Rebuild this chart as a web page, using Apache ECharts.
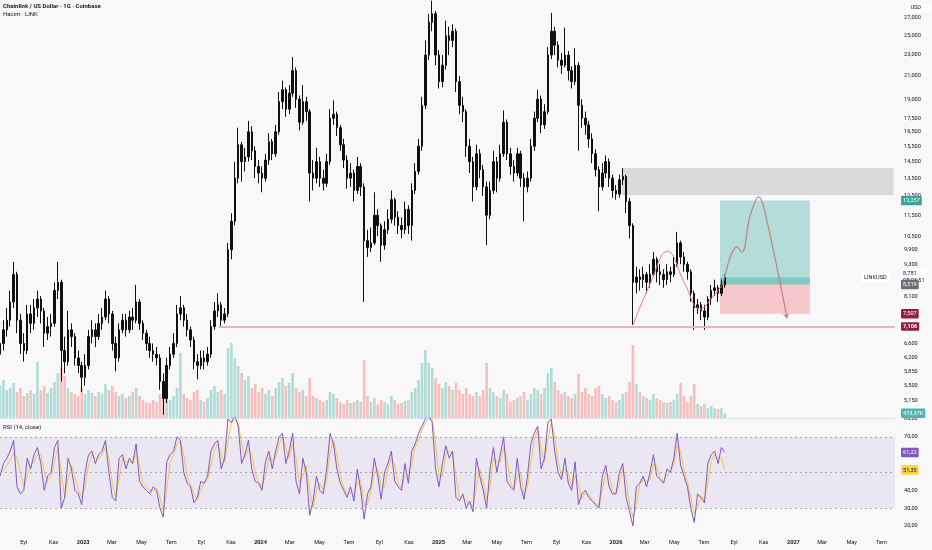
<!DOCTYPE html>
<html><head><meta charset="utf-8">
<script src="https://cdn.jsdelivr.net/npm/echarts@6/dist/echarts.min.js"></script>
<style>html,body{margin:0;padding:0;background:#f8f8f8}#c{width:932px;height:550px}</style>
</head><body><div id="c"></div>
<script>
// ---------- data (weekly) ----------
const firstWeek = '2022-07-14';
const firstOpen = 6.3;
const closes = [
6.6,7.0,7.3,7.9,8.9,7.3,6.6,6.4,7.5,7.2,
7.7,8.0,7.6,6.9,7.1,7.2,8.3,8.6,6.4,6.1,
7.0,6.8,6.2,6.0,5.7,6.0,6.8,7.0,6.8,7.2,
7.4,8.0,7.5,6.6,6.2,7.0,7.3,7.0,7.4,7.3,
7.9,7.2,6.9,6.6,6.4,6.3,6.2,5.6,5.2,6.0,
6.3,6.6,7.5,7.7,7.3,7.0,6.7,6.1,6.0,6.2,
6.1,6.3,7.1,7.6,7.8,7.3,7.5,9.9,11.2,13.5,
15.6,14.5,14.8,16.5,15.2,14.2,13.8,13.5,14.6,15.8,
15.0,16.5,18.8,19.8,18.2,19.5,21.5,19.0,17.2,18.8,
18.0,13.8,13.5,14.5,13.5,13.2,14.5,17.5,17.8,16.8,
15.6,14.6,13.5,13.8,12.8,14.2,13.0,10.3,10.0,10.2,
11.5,11.0,10.1,10.8,11.3,12.3,11.4,11.0,10.8,11.8,
11.0,12.8,13.9,15.5,18.5,23.0,26.5,27.5,23.0,20.5,
22.0,25.0,24.5,25.5,20.5,18.5,18.0,15.5,14.5,13.0,
15.0,14.0,13.0,11.5,12.8,14.5,13.5,15.0,17.2,15.0,
14.2,13.8,15.0,13.5,13.0,13.5,15.5,17.5,19.0,17.0,
18.0,23.0,25.5,24.0,22.5,22.0,23.0,21.5,20.5,22.0,
18.5,17.5,17.0,16.0,15.0,14.0,13.0,13.8,14.5,13.5,
12.8,12.6,13.4,13.6,12.2,11.0,8.6,8.8,8.7,8.9,
8.6,8.9,9.5,9.0,8.9,8.7,9.0,8.9,9.3,10.2,
9.6,9.3,9.0,8.2,7.7,7.8,7.6,7.4,8.0,8.3,
8.4,8.2,8.5,8.781];
const highs = [
6.9,7.3,7.7,8.3,9.4,9.0,7.5,6.9,7.8,7.8,
8.0,8.3,8.1,7.7,7.4,7.5,8.6,9.4,8.7,6.8,
7.6,7.2,6.9,6.4,6.1,6.3,7.0,7.3,7.2,7.5,
7.7,8.3,8.1,7.6,6.8,7.2,7.5,7.5,7.6,7.7,
8.5,8.0,7.3,7.0,6.8,6.6,6.5,6.3,5.8,6.2,
6.5,6.9,7.8,8.1,7.8,7.5,7.1,6.8,6.3,6.4,
6.4,6.5,7.3,7.9,8.2,7.9,7.7,10.2,11.6,14.5,
16.8,15.8,15.4,17.3,16.9,15.5,14.6,14.2,15.0,16.4,
16.0,17.0,19.6,20.6,20.0,20.2,22.8,21.8,19.3,20.2,
19.2,18.2,14.6,15.4,14.8,14.0,15.0,18.2,18.9,18.0,
17.0,16.0,14.9,14.4,14.0,14.8,14.4,13.2,10.8,10.9,
12.7,11.8,11.1,11.2,11.8,12.8,12.4,11.7,11.4,12.2,
12.0,13.2,14.4,16.0,19.2,24.5,27.5,29.1,27.8,23.5,
23.0,26.7,26.0,26.3,25.8,21.0,19.2,18.2,16.0,14.8,
15.6,15.3,14.3,13.3,13.3,15.2,14.8,15.6,18.1,17.4,
15.4,14.6,15.4,15.2,13.8,13.9,16.0,18.0,19.8,19.3,
18.6,23.8,27.6,26.0,24.4,23.2,25.9,23.4,21.9,23.7,
22.3,19.0,18.0,17.3,16.4,15.3,14.2,14.4,14.9,14.7,
13.7,13.1,13.7,14.1,13.7,12.4,11.1,9.2,9.1,9.2,
9.0,9.3,9.8,9.6,9.3,9.1,9.3,9.2,9.6,10.7,
10.3,9.8,9.4,9.1,8.3,8.0,7.9,7.8,8.1,8.5,
8.7,8.5,8.7,8.9];
const lows = [
6.1,6.4,6.8,7.1,7.7,6.9,6.3,6.1,6.3,6.9,
7.0,7.4,7.2,6.5,6.7,6.8,7.1,8.0,5.6,5.8,
6.0,6.5,6.0,5.8,5.35,5.5,5.9,6.6,6.5,6.7,
7.0,7.3,7.2,6.4,5.85,6.1,6.9,6.8,6.9,7.0,
7.2,7.0,6.7,6.4,6.2,6.1,6.0,5.4,4.85,5.1,
5.9,6.2,6.5,7.3,7.1,6.8,6.5,5.9,5.65,5.9,
5.9,6.0,6.2,7.0,7.4,7.1,7.2,7.4,9.5,11.0,
13.2,13.3,13.9,14.5,14.6,13.5,13.2,12.7,13.3,14.3,
14.6,14.8,16.3,18.2,17.6,17.8,19.2,18.3,16.6,17.0,
17.3,12.2,12.8,13.2,13.0,12.8,13.0,14.3,17.0,16.2,
15.2,14.1,12.9,13.0,12.2,12.6,12.5,7.9,9.6,9.8,
10.1,10.5,9.4,9.9,10.6,11.1,11.0,10.6,10.4,10.6,
10.6,10.3,12.6,13.7,15.2,18.2,22.5,25.5,22.0,19.9,
20.0,21.6,23.0,23.8,19.6,17.8,17.2,14.8,13.8,12.2,
12.8,13.5,12.5,10.1,11.3,12.6,12.7,13.3,14.8,14.6,
13.7,13.3,13.6,13.0,11.2,12.7,13.3,15.2,17.2,16.4,
16.7,17.8,22.6,23.0,21.8,21.2,21.8,20.6,19.9,20.2,
15.2,16.8,16.3,15.4,14.4,13.6,11.7,12.8,13.5,13.0,
12.4,12.3,12.4,13.1,11.6,10.4,7.15,8.2,8.3,8.4,
8.2,8.4,8.8,8.6,8.5,8.4,8.5,8.6,8.8,9.2,
9.3,9.0,8.7,7.9,7.0,7.5,7.3,7.0,7.3,7.8,
8.1,7.9,8.1,8.4];
const volumes = [ // millions of LINK
3.2,3.8,2.8,3.0,3.5,2.6,3.0,2.2,2.5,2.8,
2.4,5.6,2.8,3.2,2.5,3.0,3.6,4.5,5.0,4.2,
3.0,2.6,2.4,2.2,3.0,2.4,2.8,2.5,2.2,2.6,
2.4,3.4,2.8,3.2,2.6,2.2,2.4,2.0,2.2,2.6,
3.0,2.2,1.8,1.6,1.5,1.8,1.6,2.4,3.2,2.0,
1.8,2.2,3.0,6.5,2.4,2.0,1.8,2.6,2.8,1.8,
1.6,2.0,2.8,3.2,2.6,2.8,2.4,7.0,7.5,6.0,
5.2,4.5,3.8,4.2,3.0,3.4,2.6,3.0,2.4,2.8,
2.2,3.0,3.6,4.0,3.2,3.5,4.5,3.0,2.6,2.8,
2.2,4.0,2.2,2.0,1.8,1.6,1.8,2.6,2.4,2.0,
1.6,1.4,1.8,1.5,1.6,1.8,1.6,5.8,2.2,1.6,
2.0,1.4,1.8,1.6,1.4,2.2,1.8,1.4,1.5,1.7,
1.8,2.6,3.0,3.8,5.5,6.8,5.5,5.0,4.0,3.4,
3.0,3.6,3.2,2.8,3.5,2.8,2.4,3.0,2.4,2.2,
2.6,2.2,2.8,5.5,3.0,2.6,2.2,2.0,2.8,2.4,
1.6,1.8,2.0,2.2,2.6,1.8,2.4,3.0,2.8,2.4,
3.0,4.5,5.0,3.6,2.8,2.4,2.6,2.2,2.0,2.4,
4.4,2.6,3.0,2.4,2.2,3.0,3.2,2.4,2.0,2.2,
1.8,1.6,1.8,2.4,2.6,3.6,7.3,3.4,2.6,2.2,
2.0,1.8,2.4,2.0,1.8,1.6,1.5,1.6,1.8,2.4,
3.5,2.2,1.6,2.2,3.4,1.4,1.2,1.4,1.0,1.2,
1.0,0.9,1.0,0.47337];
const rsiValues = [
48,55,58,62,68,42,38,40,58,52,
60,64,55,40,48,50,64,68,30,36,
58,52,40,38,32,50,60,62,55,60,
62,68,50,36,34,58,60,52,58,55,
66,45,42,40,38,42,40,30,25,56,
60,62,70,68,50,44,42,33,36,45,
44,48,62,66,68,52,58,80,78,82,
76,55,60,68,52,45,44,40,56,62,
52,62,70,72,55,62,72,45,38,58,
50,26,34,48,40,38,52,72,66,52,
44,40,36,42,34,52,40,24,38,42,
58,48,35,50,55,62,45,42,40,55,
44,62,66,72,76,80,82,78,52,42,
55,65,58,62,36,34,38,30,34,28,
58,48,40,30,52,64,50,60,70,45,
42,40,58,42,35,48,66,72,76,52,
58,78,80,62,50,46,58,44,40,56,
32,38,40,36,34,32,30,48,54,42,
38,38,50,55,36,28,20,42,44,48,
42,50,60,48,46,44,52,50,58,72,
54,48,42,30,22,38,36,33,55,60,
62,55,64,61.22];
const rsiMaValues = [
50,51,54,57,61,58,50,42,48,54,
56,60,60,50,45,48,56,64,50,36,
46,54,48,40,36,42,54,60,58,58,
60,64,58,44,36,46,58,56,56,56,
60,54,44,42,40,40,41,36,28,40,
56,60,66,68,60,48,43,38,35,40,
44,46,54,62,66,60,56,68,78,79,
78,66,58,63,60,50,45,42,48,58,
57,58,66,70,64,58,66,58,44,48,
54,40,30,40,44,40,46,62,68,60,
48,42,38,39,38,44,46,32,32,40,
50,52,42,42,52,58,54,44,41,48,
50,54,64,68,74,78,80,80,66,48,
48,60,62,60,48,36,36,34,32,31,
42,52,44,35,42,58,56,56,64,58,
44,41,48,50,38,42,56,68,74,64,
56,68,78,70,56,48,52,50,42,48,
44,35,39,38,35,33,31,40,50,48,
40,38,44,52,46,32,25,32,43,46,
45,46,55,54,47,45,48,51,54,65,
62,51,45,36,27,30,37,35,44,56,
60,58,58,51.35];

// axis ticks / labels
const priceTicks = [5.15,5.5,5.85,6.2,6.6,8.1,9.3,9.9,10.5,11.5,12.5,13.5,14.5,15.5,16.5,17.5,19,21,23,25,27];
const rsiTicks = [20,30,40,70,80];
const rsiLevels = [70,50,30];
const xTicks = ['2022-09-01','2022-11-01','2023-01-01','2023-03-01','2023-05-01','2023-07-01','2023-09-01','2023-11-01',
'2024-01-01','2024-03-01','2024-05-01','2024-07-01','2024-09-01','2024-11-01','2025-01-01','2025-03-01','2025-05-01',
'2025-07-01','2025-09-01','2025-11-01','2026-01-01','2026-03-01','2026-05-01','2026-07-01','2026-09-01','2026-11-01',
'2027-01-01','2027-03-01','2027-05-01','2027-07-01'];
const xTickText = ['Eyl','Kas','2023','Mar','May','Tem','Eyl','Kas','2024','Mar','May','Tem','Eyl','Kas','2025','Mar','May',
'Tem','Eyl','Kas','2026','Mar','May','Tem','Eyl','Kas','2027','Mar','May','Tem'];
const xRange = ['2022-07-14','2027-07-29'];

// drawings (dates, prices)
const greyZone = ['2026-01-13','2027-07-26',14.1,12.55];
const positionDates = ['2026-08-03','2027-02-04'];
const targetPrice = 12.257, currentPrice = 8.781, entryPrice = 8.519, stopPrice = 7.507, supportPrice = 7.106;
const supportFrom = '2023-10-07';
const countdown = '08:03:51';
const symbolName = 'LINKUSD';
const pathA = [['2026-02-05',7.15],['2026-03-12',8.53],['2026-04-17',9.83],['2026-05-23',8.53],['2026-06-23',7.66],['2026-07-18',8.06],['2026-08-09',8.53]];
const pathB = [['2026-08-09',8.53],['2026-09-07',10.02],['2026-09-17',9.80],['2026-10-04',11.46],['2026-10-22',12.45],['2026-11-03',11.72],['2026-12-19',7.36]];

// ---------- build ----------
const DAY = 86400000;
const T = s => Date.parse(s);
const t0 = T(firstWeek);
const times = closes.map((_, i) => t0 + i * 7 * DAY);
const opens = closes.map((c, i) => i === 0 ? firstOpen : closes[i - 1]);
const candles = closes.map((c, i) => [times[i], opens[i], c, Math.min(lows[i], opens[i], c), Math.max(highs[i], opens[i], c)]);
const upVol = 'rgba(38,166,154,0.34)', downVol = 'rgba(239,83,80,0.34)';
const volData = volumes.map((v, i) => ({ value: [times[i], v], itemStyle: { color: closes[i] >= opens[i] ? upVol : downVol } }));
const rsiData = rsiValues.map((v, i) => [times[i], v]);
const rsiMaData = rsiMaValues.map((v, i) => [times[i], v]);
const xTickTs = xTicks.map(T);
const xTickMap = {}; xTickTs.forEach((t, i) => xTickMap[t] = xTickText[i]);
const fmt = (v, d) => v.toFixed(d).replace('.', ',');
const FONT = 'Roboto, sans-serif';
const FS = 5.6;
const CLEAR = 'rgba(0,0,0,0)';

function tag(value, text, bg, fg, dist, pad) {
  return {
    yAxis: value,
    lineStyle: { color: CLEAR, width: 0 },
    label: { show: true, position: 'end', formatter: text, backgroundColor: bg, color: fg, padding: pad || [1.5, 2, 1, 2],
      fontSize: FS, fontFamily: FONT, distance: dist == null ? 6 : dist, borderRadius: 1, lineHeight: 7 }
  };
}

const xMin = T(xRange[0]), xMax = T(xRange[1]);
const baseX = { type: 'value', min: xMin, max: xMax, splitLine: { show: false }, axisTick: { show: false } };

const option = {
  animation: false,
  backgroundColor: '#f8f8f8',
  textStyle: { fontFamily: FONT },
  title: [
    { left: 3, top: 3, text: 'Chainlink / US Dollar · 1G · Coinbase', subtext: 'Hacim · LINK', itemGap: 2, padding: 0,
      textStyle: { fontSize: 6, fontWeight: 'bold', color: '#131722', fontFamily: FONT },
      subtextStyle: { fontSize: 6, color: '#131722', fontFamily: FONT } },
    { left: 3, top: 424, text: 'RSI (14, close)', padding: 0,
      textStyle: { fontSize: 6, fontWeight: 'normal', color: '#131722', fontFamily: FONT } },
    { right: 3, top: 3, text: 'USD', padding: [2, 8, 1.5, 4], backgroundColor: '#ffffff', borderRadius: 2,
      textStyle: { fontSize: FS, fontWeight: 'normal', color: '#131722', fontFamily: FONT } }
  ],
  grid: [
    { left: 0, right: 37, top: 0, height: 418 },
    { left: 0, right: 37, top: 318, height: 100 },
    { left: 0, right: 37, top: 418, height: 118 }
  ],
  xAxis: [
    Object.assign({}, baseX, { gridIndex: 0, axisLabel: { show: false }, axisLine: { show: true, lineStyle: { color: '#e0e3eb', width: 1 } } }),
    Object.assign({}, baseX, { gridIndex: 1, show: false }),
    Object.assign({}, baseX, { gridIndex: 2, axisLine: { show: false },
      axisLabel: { customValues: xTickTs, margin: 4, fontSize: FS, color: '#131722', fontFamily: FONT, hideOverlap: false,
        formatter: v => { const s = xTickMap[v] || ''; return /^\d{4}$/.test(s) ? '{y|' + s + '}' : s; },
        rich: { y: { fontWeight: 'bold', fontSize: FS, color: '#131722', fontFamily: FONT } } } })
  ],
  yAxis: [
    { type: 'log', gridIndex: 0, position: 'right', min: 4.78, max: 29.19, splitLine: { show: false },
      axisLine: { show: false }, axisTick: { show: false },
      axisLabel: { customValues: priceTicks, margin: 9, fontSize: FS, color: '#131722', fontFamily: FONT, formatter: v => fmt(v, 3) } },
    { type: 'value', gridIndex: 1, min: 0, max: 10, show: false },
    { type: 'value', gridIndex: 2, position: 'right', min: 14.4, max: 80.56, splitLine: { show: false },
      axisLine: { show: false }, axisTick: { show: false },
      axisLabel: { customValues: rsiTicks, margin: 9, fontSize: FS, color: '#131722', fontFamily: FONT, formatter: v => fmt(v, 2) } }
  ],
  series: [
    { type: 'bar', name: 'Hacim', xAxisIndex: 1, yAxisIndex: 1, data: volData, barWidth: 2.6, z: 1,
      markLine: { silent: true, symbol: 'none', data: [ tag(volumes[volumes.length - 1], fmt(volumes[volumes.length - 1] * 1000, 2) + 'K', '#4db6ac', '#ffffff') ] } },
    { type: 'candlestick', name: 'LINKUSD', xAxisIndex: 0, yAxisIndex: 0, data: candles, encode: { x: 0, y: [1, 2, 3, 4] },
      barWidth: 2, z: 3,
      itemStyle: { color: '#111', color0: '#111', borderColor: '#111', borderColor0: '#111', borderWidth: 1 },
      markArea: { silent: true, data: [
        [{ xAxis: T(greyZone[0]), yAxis: greyZone[2], itemStyle: { color: 'rgba(200,200,204,0.65)' } }, { xAxis: T(greyZone[1]), yAxis: greyZone[3] }],
        [{ xAxis: T(positionDates[0]), yAxis: targetPrice, itemStyle: { color: 'rgba(38,166,154,0.32)' } }, { xAxis: T(positionDates[1]), yAxis: entryPrice }],
        [{ xAxis: T(positionDates[0]), yAxis: currentPrice, itemStyle: { color: 'rgba(38,166,154,0.38)' } }, { xAxis: T(positionDates[1]), yAxis: entryPrice }],
        [{ xAxis: T(positionDates[0]), yAxis: entryPrice, itemStyle: { color: 'rgba(242,54,69,0.25)' } }, { xAxis: T(positionDates[1]), yAxis: stopPrice }]
      ] },
      markLine: { silent: true, symbol: 'none', data: [
        [{ coord: [T(supportFrom), supportPrice], lineStyle: { color: '#eeb0c6', width: 2, type: 'solid' },
           label: { show: true, position: 'end', formatter: fmt(supportPrice, 3), backgroundColor: '#8e1f45', color: '#fff',
             padding: [1.5, 2, 1, 2], fontSize: FS, fontFamily: FONT, distance: 6, borderRadius: 1, fontWeight: 'bold' } },
         { coord: [xMax, supportPrice] }],
        tag(targetPrice, fmt(targetPrice, 3), '#3aa39a', '#ffffff'),
        tag(currentPrice, symbolName, '#ffffff', '#131722', -34, [1.5, 3, 1, 3]),
        tag(currentPrice, fmt(currentPrice, 3) + '\n' + countdown, '#ffffff', '#131722', 6, [3, 2, 0, 2]),
        tag(entryPrice, fmt(entryPrice, 3), '#6b6e76', '#ffffff'),
        tag(stopPrice, fmt(stopPrice, 3), '#8e1f45', '#ffffff')
      ] } },
    { type: 'line', name: 'pathA', xAxisIndex: 0, yAxisIndex: 0, data: pathA.map(p => [T(p[0]), p[1]]), smooth: 0.45,
      symbol: 'none', z: 5, lineStyle: { color: '#f47c82', width: 1 } },
    { type: 'line', name: 'pathB', xAxisIndex: 0, yAxisIndex: 0, data: pathB.map(p => [T(p[0]), p[1]]), smooth: 0.4, z: 5,
      showSymbol: true, symbol: (v, p) => p.dataIndex === pathB.length - 1 ? 'arrow' : 'none', symbolSize: 5, symbolRotate: 193,
      itemStyle: { color: '#d07f84' }, lineStyle: { color: 'rgba(196,118,122,0.85)', width: 1.3 } },
    { type: 'line', name: 'RSI', xAxisIndex: 2, yAxisIndex: 2, data: rsiData, symbol: 'none', z: 4,
      lineStyle: { color: '#7e57c2', width: 1 },
      markArea: { silent: true, data: [[{ yAxis: 30, itemStyle: { color: 'rgba(126,87,194,0.1)' } }, { yAxis: 70 }]] },
      markLine: { silent: true, symbol: 'none', data: rsiLevels.map(v => ({ yAxis: v, label: { show: false }, lineStyle: { color: '#a6a8b0', type: [2, 3], width: 1 } }))
        .concat([tag(rsiValues[rsiValues.length - 1], fmt(rsiValues[rsiValues.length - 1], 2), '#7e57c2', '#ffffff')]) } },
    { type: 'line', name: 'RSI MA', xAxisIndex: 2, yAxisIndex: 2, data: rsiMaData, symbol: 'none', z: 3,
      lineStyle: { color: '#f5c542', width: 1 },
      markLine: { silent: true, symbol: 'none', data: [tag(rsiMaValues[rsiMaValues.length - 1], fmt(rsiMaValues[rsiMaValues.length - 1], 2), '#f7d44c', '#131722')] } }
  ]
};
const chart = echarts.init(document.getElementById('c'));
chart.setOption(option);
</script>
</body></html>
